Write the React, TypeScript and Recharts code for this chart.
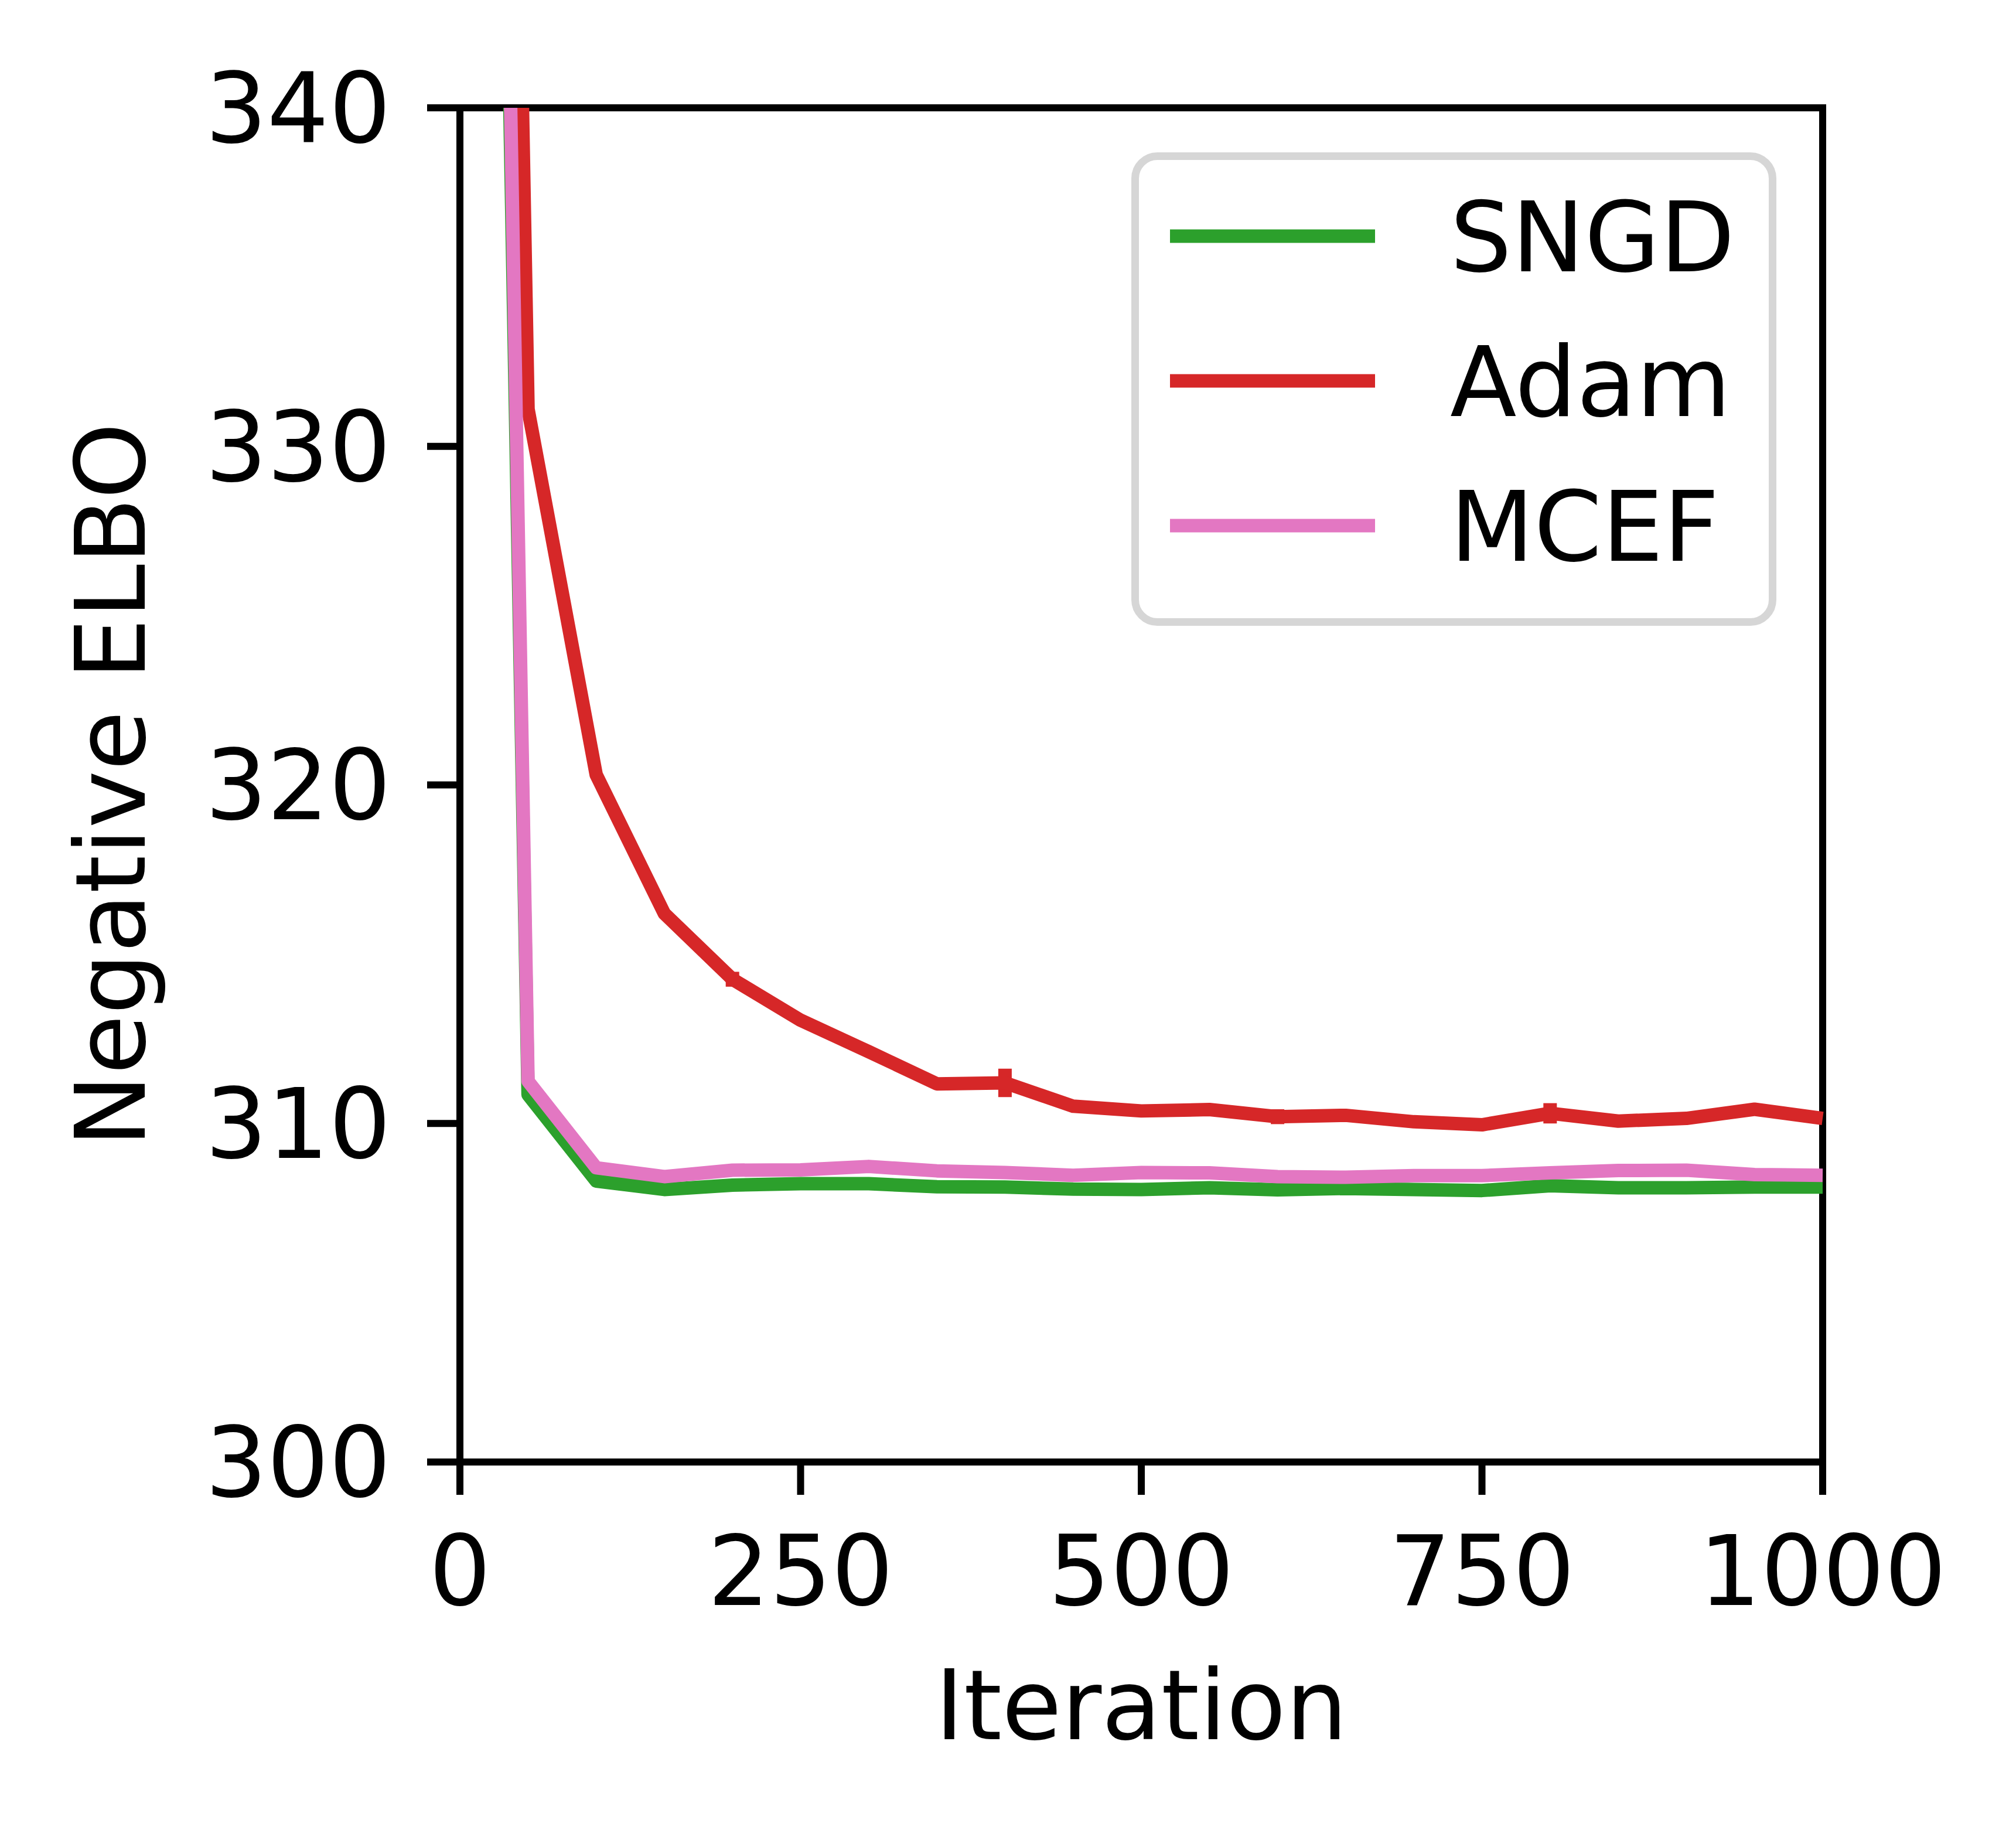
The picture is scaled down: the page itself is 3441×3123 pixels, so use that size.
import React from "react";
import {
  ErrorBar,
  Legend,
  Line,
  LineChart,
  ReferenceLine,
  XAxis,
  YAxis,
} from "recharts";

// Negative ELBO vs iteration for SNGD / Adam / MCEF.

const FONT = "DejaVu Sans";

const seriesNames = ["SNGD", "Adam", "MCEF"];

const iterations = [
  0, 50, 100, 150, 200, 250, 300, 350, 400, 450, 500, 550, 600, 650, 700, 750,
  800, 850, 900, 950, 1000,
];
const sngd = [
  420, 310.85, 308.3, 308.05, 308.18, 308.22, 308.22, 308.13, 308.12, 308.06,
  308.05, 308.1, 308.04, 308.08, 308.05, 308.02, 308.16, 308.1, 308.1, 308.12,
  308.12,
];
const adam = [
  440, 331.1, 320.3, 316.2, 314.26, 313.05, 312.12, 311.17, 311.2, 310.51,
  310.37, 310.41, 310.2, 310.24, 310.05, 309.96, 310.3, 310.07, 310.15, 310.42,
  310.15,
];
const adamErr = [
  0, 0, 0, 0, 0.22, 0, 0, 0, 0.42, 0, 0, 0, 0.22, 0, 0, 0, 0.3, 0, 0, 0, 0,
];
const mcef = [
  424, 311.25, 308.69, 308.43, 308.62, 308.63, 308.73, 308.6, 308.55, 308.47,
  308.55, 308.54, 308.43, 308.41, 308.46, 308.46, 308.54, 308.61, 308.62,
  308.49, 308.47,
];

const xTicks = [0, 250, 500, 750, 1000];
const yTicks = [300, 310, 320, 330, 340];

const rows = iterations.map((it, i) => ({
  iteration: it,
  SNGD: sngd[i],
  Adam: adam[i],
  adamErr: adamErr[i],
  MCEF: mcef[i],
}));

const axisLine = { stroke: "#000", strokeWidth: 12, strokeLinecap: "square" as const };
const tickLine = { stroke: "#000", strokeWidth: 12 };
const tickStyle = { fill: "#000", fontSize: 166, fontFamily: FONT };

function LegendBox({ payload }: any) {
  const items = [...(payload || [])].sort(
    (a: any, b: any) => seriesNames.indexOf(a.value) - seriesNames.indexOf(b.value)
  );
  return (
    <svg width={1101} height={808} style={{ display: "block" }}>
      <rect
        x={6.5}
        y={6.5}
        width={1088}
        height={795}
        rx={38}
        fill="#fff"
        fillOpacity={0.8}
        stroke="#d6d6d6"
        strokeWidth={13}
      />
      {items.map((p: any, i: number) => {
        const y = 143 + i * 247;
        return (
          <g key={p.value}>
            <line x1={66} x2={416} y1={y} y2={y} stroke={p.color} strokeWidth={23} />
            <text
              x={544}
              y={y + 60}
              fontSize={166}
              fontFamily={FONT}
              fill="#000"
            >
              {p.value}
            </text>
          </g>
        );
      })}
    </svg>
  );
}

export default function App() {
  return (
    <div
      style={{
        position: "absolute",
        left: 0,
        top: 0,
        width: 3441,
        height: 3123,
        background: "#fff",
      }}
    >
      <LineChart
        width={3441}
        height={3123}
        data={rows}
        margin={{ top: 184, right: 330, bottom: 128, left: 0 }}
      >
        <XAxis
          dataKey="iteration"
          type="number"
          domain={[0, 1000]}
          ticks={xTicks}
          height={500}
          tickSize={56}
          tickMargin={70}
          axisLine={axisLine}
          tickLine={tickLine}
          tick={tickStyle}
          label={{
            value: "Iteration",
            content: ({ viewBox }: any) => (
              <text
                x={viewBox.x + viewBox.width / 2}
                y={viewBox.y + 473}
                textAnchor="middle"
                fontSize={166}
                fontFamily={FONT}
                fill="#000"
              >
                Iteration
              </text>
            ),
          }}
        />
        <YAxis
          type="number"
          domain={[300, 340]}
          allowDataOverflow
          ticks={yTicks}
          width={785}
          tickSize={56}
          tickMargin={62}
          axisLine={axisLine}
          tickLine={tickLine}
          tick={tickStyle}
          label={{
            value: "Negative ELBO",
            content: ({ viewBox }: any) => {
              const cx = 247;
              const cy = viewBox.y + viewBox.height / 2;
              return (
                <text
                  x={cx}
                  y={cy}
                  transform={`rotate(-90, ${cx}, ${cy})`}
                  textAnchor="middle"
                  fontSize={166}
                  fontFamily={FONT}
                  fill="#000"
                >
                  Negative ELBO
                </text>
              );
            },
          }}
        />
        <ReferenceLine y={340} stroke="#000" strokeWidth={12} strokeLinecap="square" />
        <ReferenceLine x={1000} stroke="#000" strokeWidth={12} strokeLinecap="square" />
        <Legend
          layout="horizontal"
          verticalAlign="middle"
          align="center"
          wrapperStyle={{ left: 1931, top: 260, width: 1101, height: 808 }}
          content={LegendBox}
        />
        <Line
          dataKey="SNGD"
          stroke="#2ca02c"
          strokeWidth={23}
          strokeLinejoin="round"
          dot={false}
          activeDot={false}
          isAnimationActive={false}
        />
        <Line
          dataKey="Adam"
          stroke="#d62728"
          strokeWidth={23}
          strokeLinejoin="round"
          dot={false}
          activeDot={false}
          isAnimationActive={false}
        >
          <ErrorBar
            dataKey="adamErr"
            direction="y"
            width={0}
            stroke="#d62728"
            strokeWidth={23}
            isAnimationActive={false}
          />
        </Line>
        <Line
          dataKey="MCEF"
          stroke="#e377c2"
          strokeWidth={23}
          strokeLinejoin="round"
          dot={false}
          activeDot={false}
          isAnimationActive={false}
        />
      </LineChart>
    </div>
  );
}
